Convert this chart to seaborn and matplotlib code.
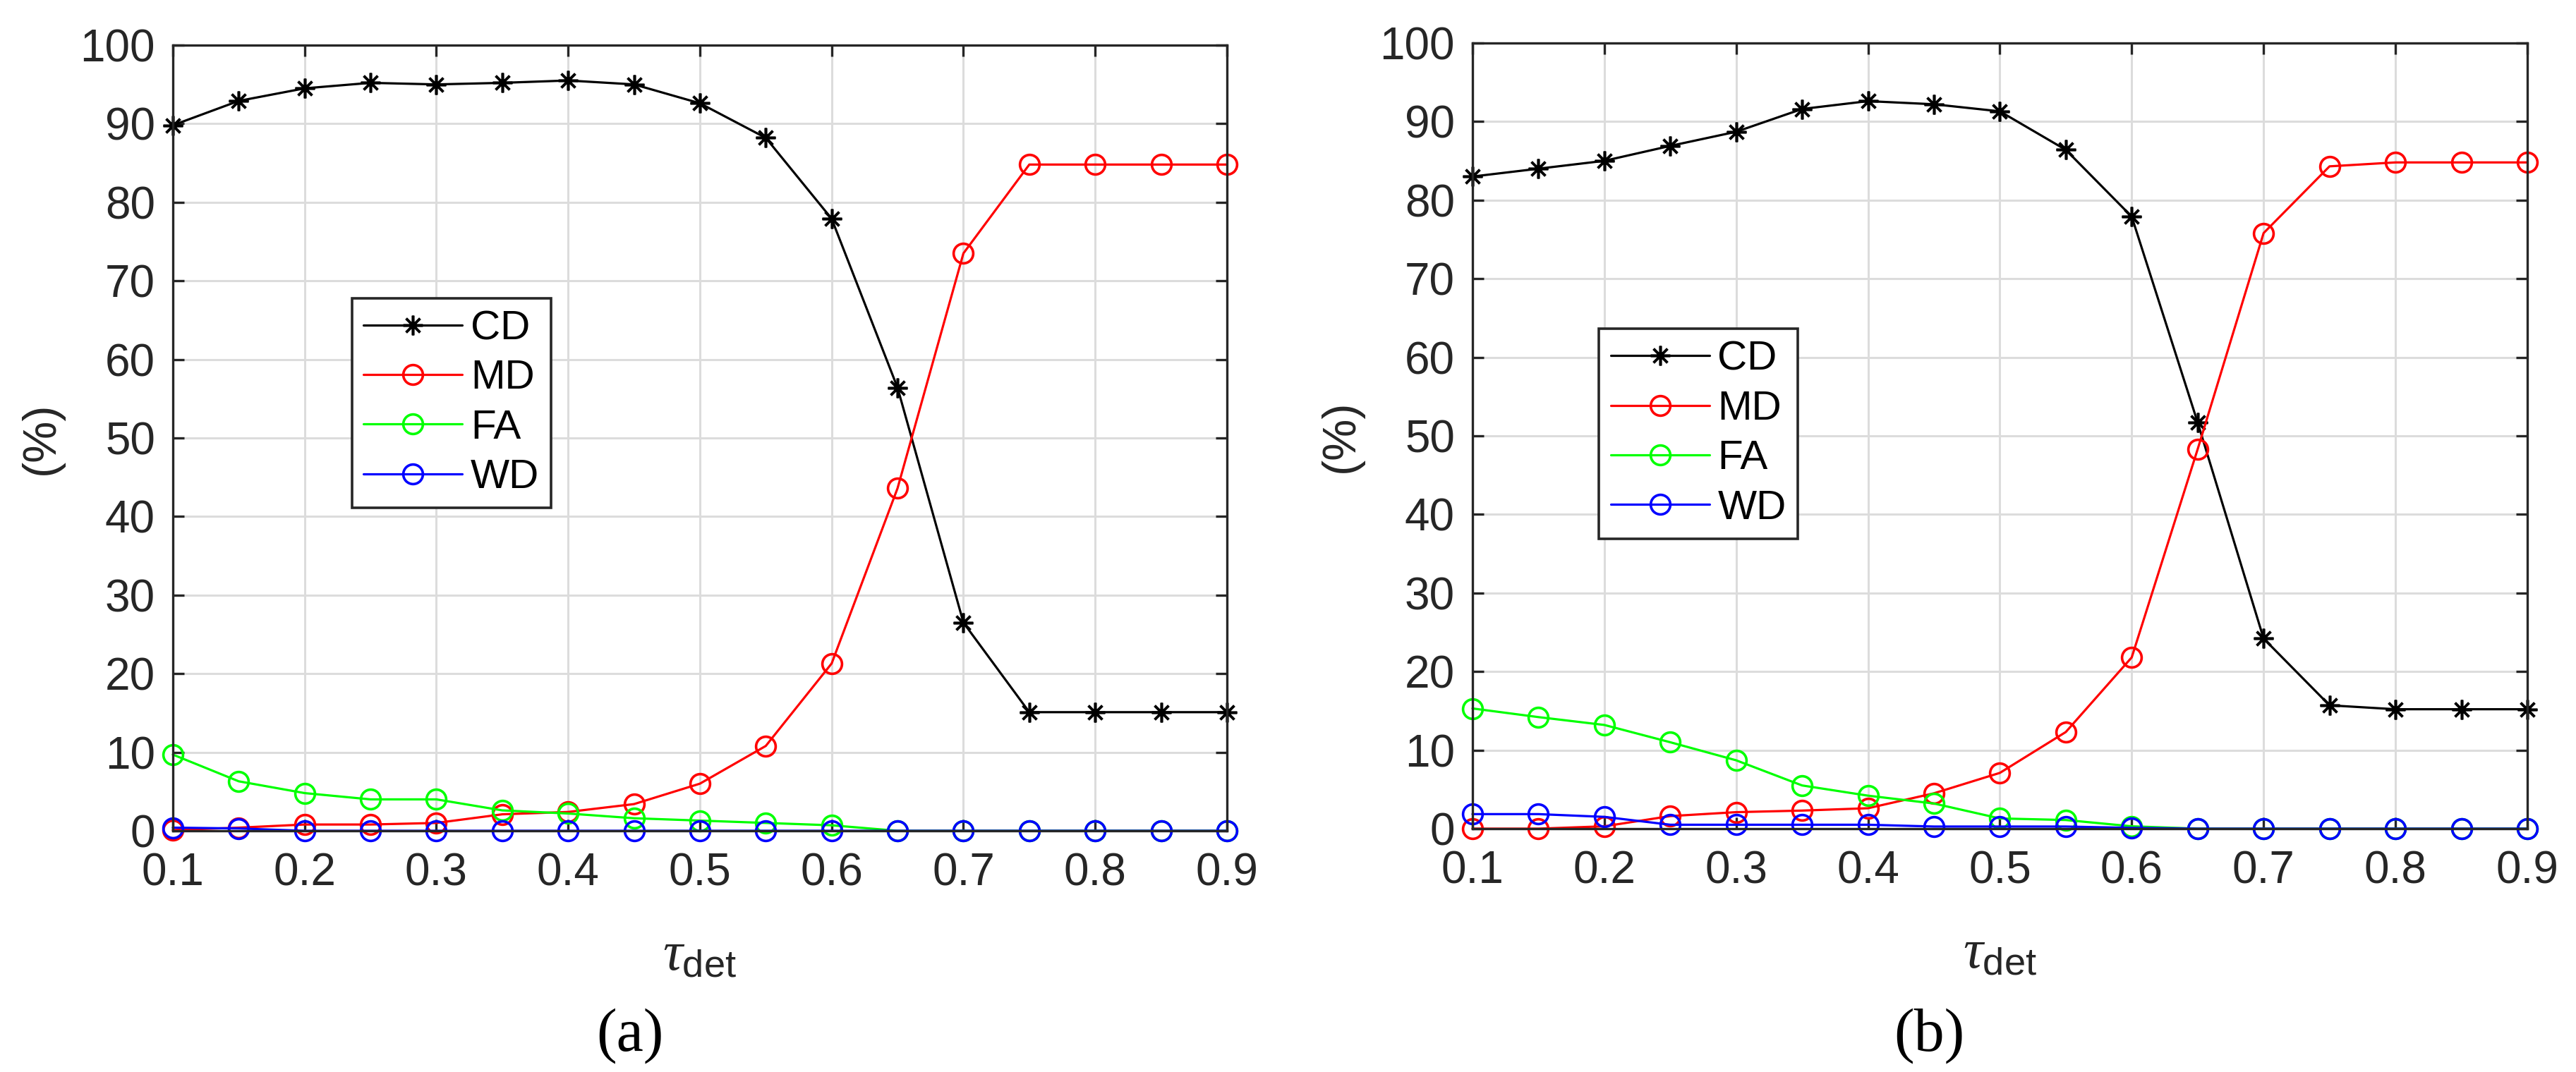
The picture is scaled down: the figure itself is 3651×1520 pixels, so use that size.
import numpy as np
import pandas as pd
import matplotlib
matplotlib.use("Agg")
import matplotlib.pyplot as plt
import seaborn as sns

# threshold values
tau = [0.1, 0.15, 0.2, 0.25, 0.3, 0.35, 0.4, 0.45, 0.5,
       0.55, 0.6, 0.65, 0.7, 0.75, 0.8, 0.85, 0.9]

# panel (a)
cd_a = [89.8, 92.9, 94.5, 95.2, 95.0, 95.2, 95.5, 95.0, 92.6,
        88.2, 77.9, 56.4, 26.5, 15.1, 15.1, 15.1, 15.1]
md_a = [0.1, 0.4, 0.8, 0.8, 1.0, 2.1, 2.4, 3.4, 6.0,
        10.8, 21.3, 43.6, 73.5, 84.8, 84.8, 84.8, 84.8]
fa_a = [9.7, 6.3, 4.8, 4.0, 4.0, 2.6, 2.2, 1.6, 1.3,
        1.0, 0.7, 0.0, 0.0, 0.0, 0.0, 0.0, 0.0]
wd_a = [0.4, 0.3, 0.0, 0.0, 0.0, 0.0, 0.0, 0.0, 0.0,
        0.0, 0.0, 0.0, 0.0, 0.0, 0.0, 0.0, 0.0]

# panel (b)
cd_b = [83.0, 84.0, 85.0, 86.9, 88.7, 91.6, 92.6, 92.2, 91.3,
        86.4, 77.9, 51.7, 24.2, 15.7, 15.2, 15.2, 15.2]
md_b = [0.0, 0.0, 0.3, 1.6, 2.1, 2.3, 2.6, 4.5, 7.1,
        12.3, 21.8, 48.3, 75.8, 84.3, 84.8, 84.8, 84.8]
fa_b = [15.3, 14.2, 13.2, 11.0, 8.7, 5.5, 4.2, 3.2, 1.3,
        1.1, 0.3, 0.0, 0.0, 0.0, 0.0, 0.0, 0.0]
wd_b = [1.85, 1.85, 1.5, 0.5, 0.5, 0.5, 0.5, 0.27, 0.27,
        0.27, 0.1, 0.0, 0.0, 0.0, 0.0, 0.0, 0.0]

series = ["CD", "MD", "FA", "WD"]
colors = {"CD": "#000000", "MD": "#ff0000", "FA": "#00ff00", "WD": "#0000ff"}
markers = {"CD": (8, 2, 0), "MD": "o", "FA": "o", "WD": "o"}

sns.set_theme(style="ticks")
plt.rcParams["font.family"] = ["Liberation Sans", "DejaVu Sans"]
plt.rcParams["mathtext.fontset"] = "custom"
plt.rcParams["mathtext.rm"] = "Liberation Sans"
plt.rcParams["mathtext.it"] = "Liberation Serif:italic"

fig = plt.figure(figsize=(36.51, 15.2), dpi=100)
ax_a = fig.add_axes([0.0671, 0.225, 0.4092, 0.7329])
ax_b = fig.add_axes([0.5716, 0.227, 0.4095, 0.7329])

dark = "#262626"


def draw_panel(ax, vals, leg_x, leg_y):
    for name in series:
        df = pd.DataFrame({"tau": tau, "val": vals[name]})
        c = colors[name]
        sns.lineplot(data=df, x="tau", y="val", ax=ax, color=c,
                     marker=markers[name], markersize=20,
                     markerfacecolor="none" if name != "CD" else c,
                     markeredgecolor=c, markeredgewidth=2.6,
                     linewidth=2.3, errorbar=None, clip_on=False,
                     label=name, zorder=3)
    ax.set_xlim(0.1, 0.9)
    ax.set_ylim(0, 100)
    ax.set_xticks(np.arange(0.1, 0.91, 0.1))
    ax.set_xticklabels([f"{t:.1f}" for t in np.arange(0.1, 0.91, 0.1)])
    ax.set_yticks(range(0, 101, 10))
    ax.grid(True, color="#dcdcdc", linewidth=2.2, zorder=0)
    ax.set_axisbelow(True)
    for s in ax.spines.values():
        s.set_linewidth(2.4)
        s.set_color(dark)
        s.set_zorder(4)
    ax.tick_params(direction="in", top=True, right=True, length=11.5,
                   width=2.4, color=dark, labelcolor=dark, labelsize=46)
    ax.tick_params(axis="x", pad=22)
    ax.tick_params(axis="y", pad=18)
    ax.set_ylabel("(%)", fontsize=48, color=dark, labelpad=17)
    ax.set_xlabel(r"$\tau_{\mathrm{det}}$", fontsize=56, color=dark,
                  labelpad=36)
    leg = ax.legend(loc="upper left", bbox_to_anchor=(leg_x, leg_y),
                    borderaxespad=0, fontsize=42, frameon=True,
                    fancybox=False, handlelength=2.4, handletextpad=0.2,
                    labelspacing=0.28, borderpad=0.28)
    leg.get_frame().set_edgecolor(dark)
    leg.get_frame().set_linewidth(2.6)
    leg.get_frame().set_alpha(1)
    for t in leg.get_texts():
        t.set_color("black")
    leg.set_zorder(5)


draw_panel(ax_a, {"CD": cd_a, "MD": md_a, "FA": fa_a, "WD": wd_a}, 0.170, 0.678)
draw_panel(ax_b, {"CD": cd_b, "MD": md_b, "FA": fa_b, "WD": wd_b}, 0.120, 0.636)

fig.text(0.2446, 0.034, "(a)", ha="center", va="center", fontsize=62,
         family="Liberation Serif", color="black")
fig.text(0.749, 0.034, "(b)", ha="center", va="center", fontsize=62,
         family="Liberation Serif", color="black")

fig.savefig("out.png", dpi=100, facecolor="white")
